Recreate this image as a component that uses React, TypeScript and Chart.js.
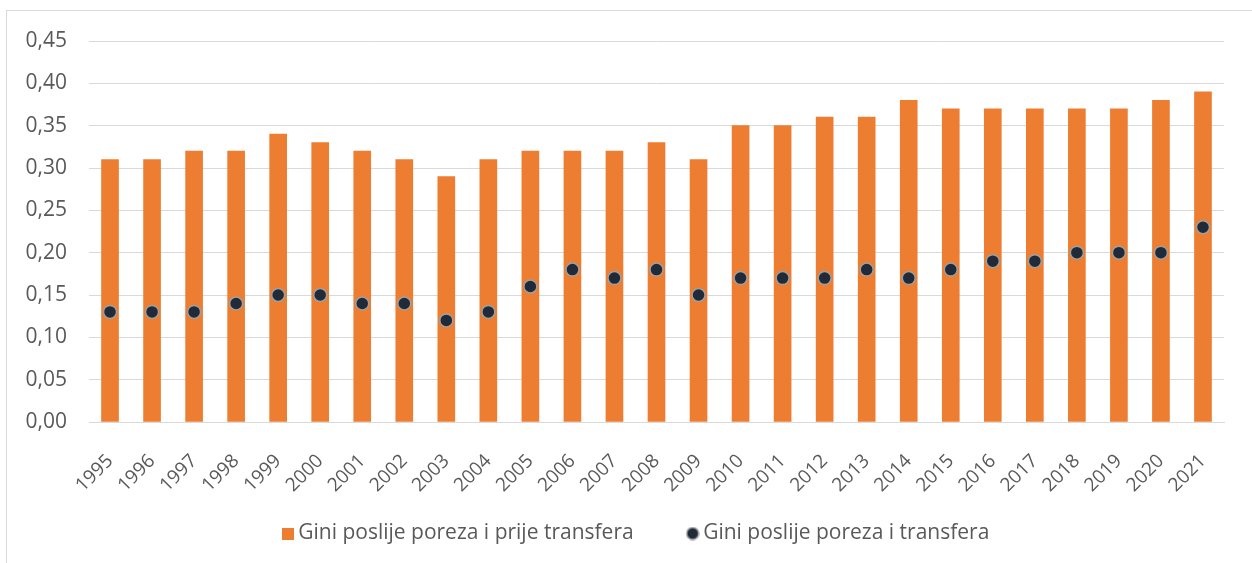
import React, { useEffect, useRef } from "react";
import { Chart, registerables } from "chart.js";

Chart.register(...registerables);

const years = [
  "1995", "1996", "1997", "1998", "1999", "2000", "2001", "2002", "2003", "2004",
  "2005", "2006", "2007", "2008", "2009", "2010", "2011", "2012", "2013", "2014",
  "2015", "2016", "2017", "2018", "2019", "2020", "2021",
];

const giniBeforeTransfers = [
  0.31, 0.31, 0.32, 0.32, 0.34, 0.33, 0.32, 0.31, 0.29, 0.31,
  0.32, 0.32, 0.32, 0.33, 0.31, 0.35, 0.35, 0.36, 0.36, 0.38,
  0.37, 0.37, 0.37, 0.37, 0.37, 0.38, 0.39,
];

const giniAfterTransfers = [
  0.13, 0.13, 0.13, 0.14, 0.15, 0.15, 0.14, 0.14, 0.12, 0.13,
  0.16, 0.18, 0.17, 0.18, 0.15, 0.17, 0.17, 0.17, 0.18, 0.17,
  0.18, 0.19, 0.19, 0.2, 0.2, 0.2, 0.23,
];

const seriesLabels = [
  "Gini poslije poreza i prije transfera",
  "Gini poslije poreza i transfera",
];

const ORANGE = "#ED7D31";
const DOT_FILL = "#202a38";
const DOT_BORDER = "#a0a0a0";
const TEXT = "#595959";
const GRID = "#d9d9d9";
const FONT = "'Open Sans', 'Noto Sans', sans-serif";

function makeSquare(size: number) {
  const c = document.createElement("canvas");
  c.width = size;
  c.height = size;
  const ctx = c.getContext("2d")!;
  ctx.fillStyle = ORANGE;
  ctx.fillRect(0, 0, size, size);
  return c;
}

function makeDot(size: number) {
  const c = document.createElement("canvas");
  c.width = size;
  c.height = size;
  const ctx = c.getContext("2d")!;
  ctx.beginPath();
  ctx.arc(size / 2, size / 2, size / 2 - 1, 0, Math.PI * 2);
  ctx.fillStyle = DOT_FILL;
  ctx.fill();
  ctx.lineWidth = 1.5;
  ctx.strokeStyle = DOT_BORDER;
  ctx.stroke();
  return c;
}

const legendShift = {
  id: "legendShift",
  afterLayout(chart: any) {
    const lg = chart.legend;
    if (lg) {
      lg.left -= 18;
      lg.right -= 18;
    }
  },
};

export default function App() {
  const canvasRef = useRef<HTMLCanvasElement | null>(null);

  useEffect(() => {
    if (!canvasRef.current) return;
    const square = makeSquare(12);
    const dot = makeDot(14);

    const chart = new Chart(canvasRef.current, {
      type: "bar",
      data: {
        labels: years,
        datasets: [
          {
            type: "bar",
            label: seriesLabels[0],
            data: giniBeforeTransfers,
            backgroundColor: ORANGE,
            borderWidth: 0,
            barThickness: 17,
            order: 1,
          },
          {
            type: "line",
            label: seriesLabels[1],
            data: giniAfterTransfers,
            showLine: false,
            pointRadius: 6.5,
            pointHoverRadius: 6.5,
            pointBackgroundColor: DOT_FILL,
            pointBorderColor: DOT_BORDER,
            pointBorderWidth: 1.5,
            order: 0,
          },
        ],
      },
      plugins: [legendShift],
      options: {
        responsive: false,
        animation: false,
        layout: { padding: { left: 0, right: 28, top: 41, bottom: 9 } },
        scales: {
          x: {
            offset: true,
            grid: { display: false, drawTicks: false },
            border: { display: true, color: GRID, width: 1 },
            ticks: {
              color: TEXT,
              font: { family: FONT, size: 19 },
              minRotation: 45,
              maxRotation: 45,
              padding: 28,
              autoSkip: false,
            },
            afterFit: (scale: any) => {
              scale.height = 42;
            },
            afterUpdate: (scale: any) => {
              scale._computeLabelArea = () => undefined;
            },
          },
          y: {
            min: 0,
            max: 0.45,
            grid: { color: GRID, lineWidth: 1, drawTicks: false },
            border: { display: false },
            ticks: {
              stepSize: 0.05,
              color: TEXT,
              font: { family: FONT, size: 21 },
              padding: 22,
              callback: (v: any) => Number(v).toFixed(2).replace(".", ","),
            },
            afterFit: (scale: any) => {
              scale.width = 89;
            },
          },
        },
        plugins: {
          tooltip: { enabled: false },
          legend: {
            position: "bottom",
            fullSize: false,
            labels: {
              usePointStyle: true,
              boxHeight: 12,
              pointStyleWidth: 0.01,
              padding: 59,
              color: TEXT,
              font: { family: FONT, size: 21 },
              sort: (a: any, b: any) => a.datasetIndex - b.datasetIndex,
              generateLabels: (ch: any) => {
                const items = Chart.defaults.plugins.legend.labels.generateLabels(ch);
                return items.map((it: any) => ({
                  ...it,
                  pointStyle: it.datasetIndex === 0 ? square : dot,
                  fontColor: TEXT,
                }));
              },
            },
          },
        },
      },
    });
    return () => chart.destroy();
  }, []);

  return (
    <div
      style={{
        position: "fixed",
        left: 0,
        top: 0,
        width: 1252,
        height: 563,
        overflow: "hidden",
        background: "#fff",
      }}
    >
      <div
        style={{
          position: "absolute",
          left: 6,
          top: 10,
          width: 1400,
          height: 700,
          border: `1px solid ${GRID}`,
        }}
      />
      <canvas
        ref={canvasRef}
        width={1252}
        height={563}
        style={{ position: "absolute", left: 0, top: 0, width: 1252, height: 563 }}
      />
    </div>
  );
}
